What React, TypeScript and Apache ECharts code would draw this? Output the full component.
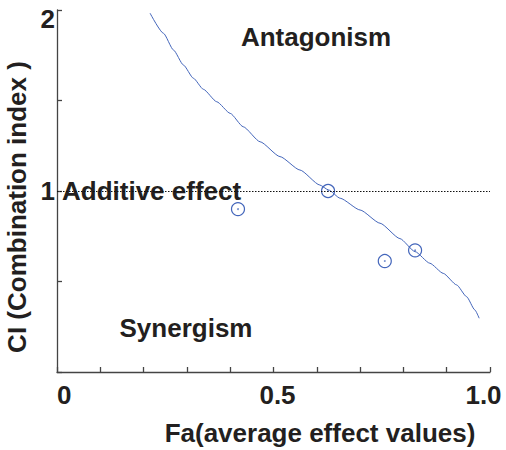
import React, { useEffect, useRef } from "react";
import * as echarts from "echarts";

const curveFa = [
  0.215, 0.246, 0.269, 0.292, 0.315, 0.338, 0.369, 0.4, 0.43, 0.469, 0.515, 0.561,
  0.607, 0.627, 0.654, 0.7, 0.746, 0.792, 0.827, 0.861, 0.892, 0.923, 0.946, 0.965, 0.975,
];
const curveCI = [
  1.982, 1.871, 1.779, 1.696, 1.623, 1.562, 1.493, 1.429, 1.355, 1.272, 1.19, 1.116,
  1.033, 1.006, 0.96, 0.895, 0.822, 0.737, 0.665, 0.601, 0.545, 0.481, 0.416, 0.343, 0.297,
];

const pointFa = [0.418, 0.626, 0.757, 0.827];
const pointCI = [0.9, 1.0, 0.613, 0.672];

const xTickLabels = ["0", "0.5", "1.0"];
const yTickLabels = ["1", "2"];

const TEXT = "#231f20";
const BLUE = "#4466bb";
const FONT = "'Liberation Sans', Arial, sans-serif";

export default function App() {
  const ref = useRef<HTMLDivElement>(null);
  useEffect(() => {
    document.body.style.margin = "0";
    const chart = echarts.init(ref.current!, null, { renderer: "svg" });
    const curve = curveFa.map((x, i) => [x, curveCI[i]]);
    const pts = pointFa.map((x, i) => [x, pointCI[i]]);
    const labelBase = { fontSize: 26, fontWeight: "bold", color: TEXT, fontFamily: FONT };
    chart.setOption({
      animation: false,
      textStyle: { fontFamily: FONT },
      grid: { left: 57, top: 10, right: 16, bottom: 78, containLabel: false, outerBoundsMode: "none" },
      xAxis: {
        type: "value",
        min: 0,
        max: 1,
        interval: 0.1,
        splitLine: { show: false },
        axisLine: { lineStyle: { color: "#444", width: 1.3 } },
        axisTick: { inside: true, length: 5, lineStyle: { color: "#444", width: 1.3 } },
        axisLabel: {
          ...labelBase,
          margin: 10,
          alignMinLabel: "left",
          formatter: (v: number) => {
            if (Math.abs(v) < 1e-9) return xTickLabels[0];
            if (Math.abs(v - 0.5) < 1e-9) return "{mid|" + xTickLabels[1] + "}";
            if (Math.abs(v - 1) < 1e-9) return "{end|" + xTickLabels[2] + "}";
            return "";
          },
          rich: {
            mid: { ...labelBase, padding: [0, 0, 0, 8] },
            end: { ...labelBase, padding: [0, 13, 0, 0] },
          },
        },
      },
      yAxis: {
        type: "value",
        min: 0,
        max: 2,
        interval: 0.5,
        splitLine: { show: false },
        axisLine: { lineStyle: { color: "#444", width: 1.3 } },
        axisTick: { inside: true, length: 5, lineStyle: { color: "#444", width: 1.3 } },
        axisLabel: {
          ...labelBase,
          margin: 2,
          formatter: (v: number) => {
            if (Math.abs(v - 1) < 1e-9) return yTickLabels[0];
            if (Math.abs(v - 2) < 1e-9) return "{top|" + yTickLabels[1] + "}";
            return "";
          },
          rich: {
            top: { ...labelBase, padding: [18, 0, 0, 0] },
          },
        },
      },
      series: [
        {
          type: "line",
          data: curve,
          smooth: 0.2,
          smoothMonotone: "x",
          showSymbol: false,
          lineStyle: { color: BLUE, width: 1 },
          z: 2,
        },
        {
          type: "scatter",
          data: pts,
          symbol: "circle",
          symbolSize: 13,
          itemStyle: { color: "rgba(0,0,0,0)", borderColor: BLUE, borderWidth: 1.2, opacity: 1 },
          z: 3,
          markLine: {
            silent: true,
            symbol: "none",
            label: { show: false },
            lineStyle: { color: "#111", type: [1.5, 1.5], width: 1 },
            data: [{ yAxis: 1 }],
          },
        },
        {
          type: "scatter",
          data: pts,
          symbol: "circle",
          symbolSize: 1.8,
          itemStyle: { color: BLUE },
          z: 4,
        },
      ],
      graphic: [
        {
          type: "text",
          x: 316,
          y: 37,
          style: { text: "Antagonism", fill: TEXT, font: `bold 26px ${FONT}`, align: "center", verticalAlign: "middle" },
        },
        {
          type: "text",
          x: 62,
          y: 191,
          style: { text: "Additive effect", fill: TEXT, font: `bold 26px ${FONT}`, align: "left", verticalAlign: "middle" },
          z: 1,
        },
        {
          type: "text",
          x: 186,
          y: 328,
          style: { text: "Synergism", fill: TEXT, font: `bold 26px ${FONT}`, align: "center", verticalAlign: "middle" },
        },
        {
          type: "text",
          x: 17,
          y: 207,
          rotation: Math.PI / 2,
          style: { text: "CI (Combination index )", fill: TEXT, font: `bold 26px ${FONT}`, align: "center", verticalAlign: "middle" },
        },
        {
          type: "text",
          x: 320,
          y: 433,
          style: { text: "Fa(average effect values)", fill: TEXT, font: `bold 26px ${FONT}`, align: "center", verticalAlign: "middle" },
        },
      ],
    });
    return () => chart.dispose();
  }, []);
  return <div ref={ref} style={{ width: 506, height: 450 }} />;
}
